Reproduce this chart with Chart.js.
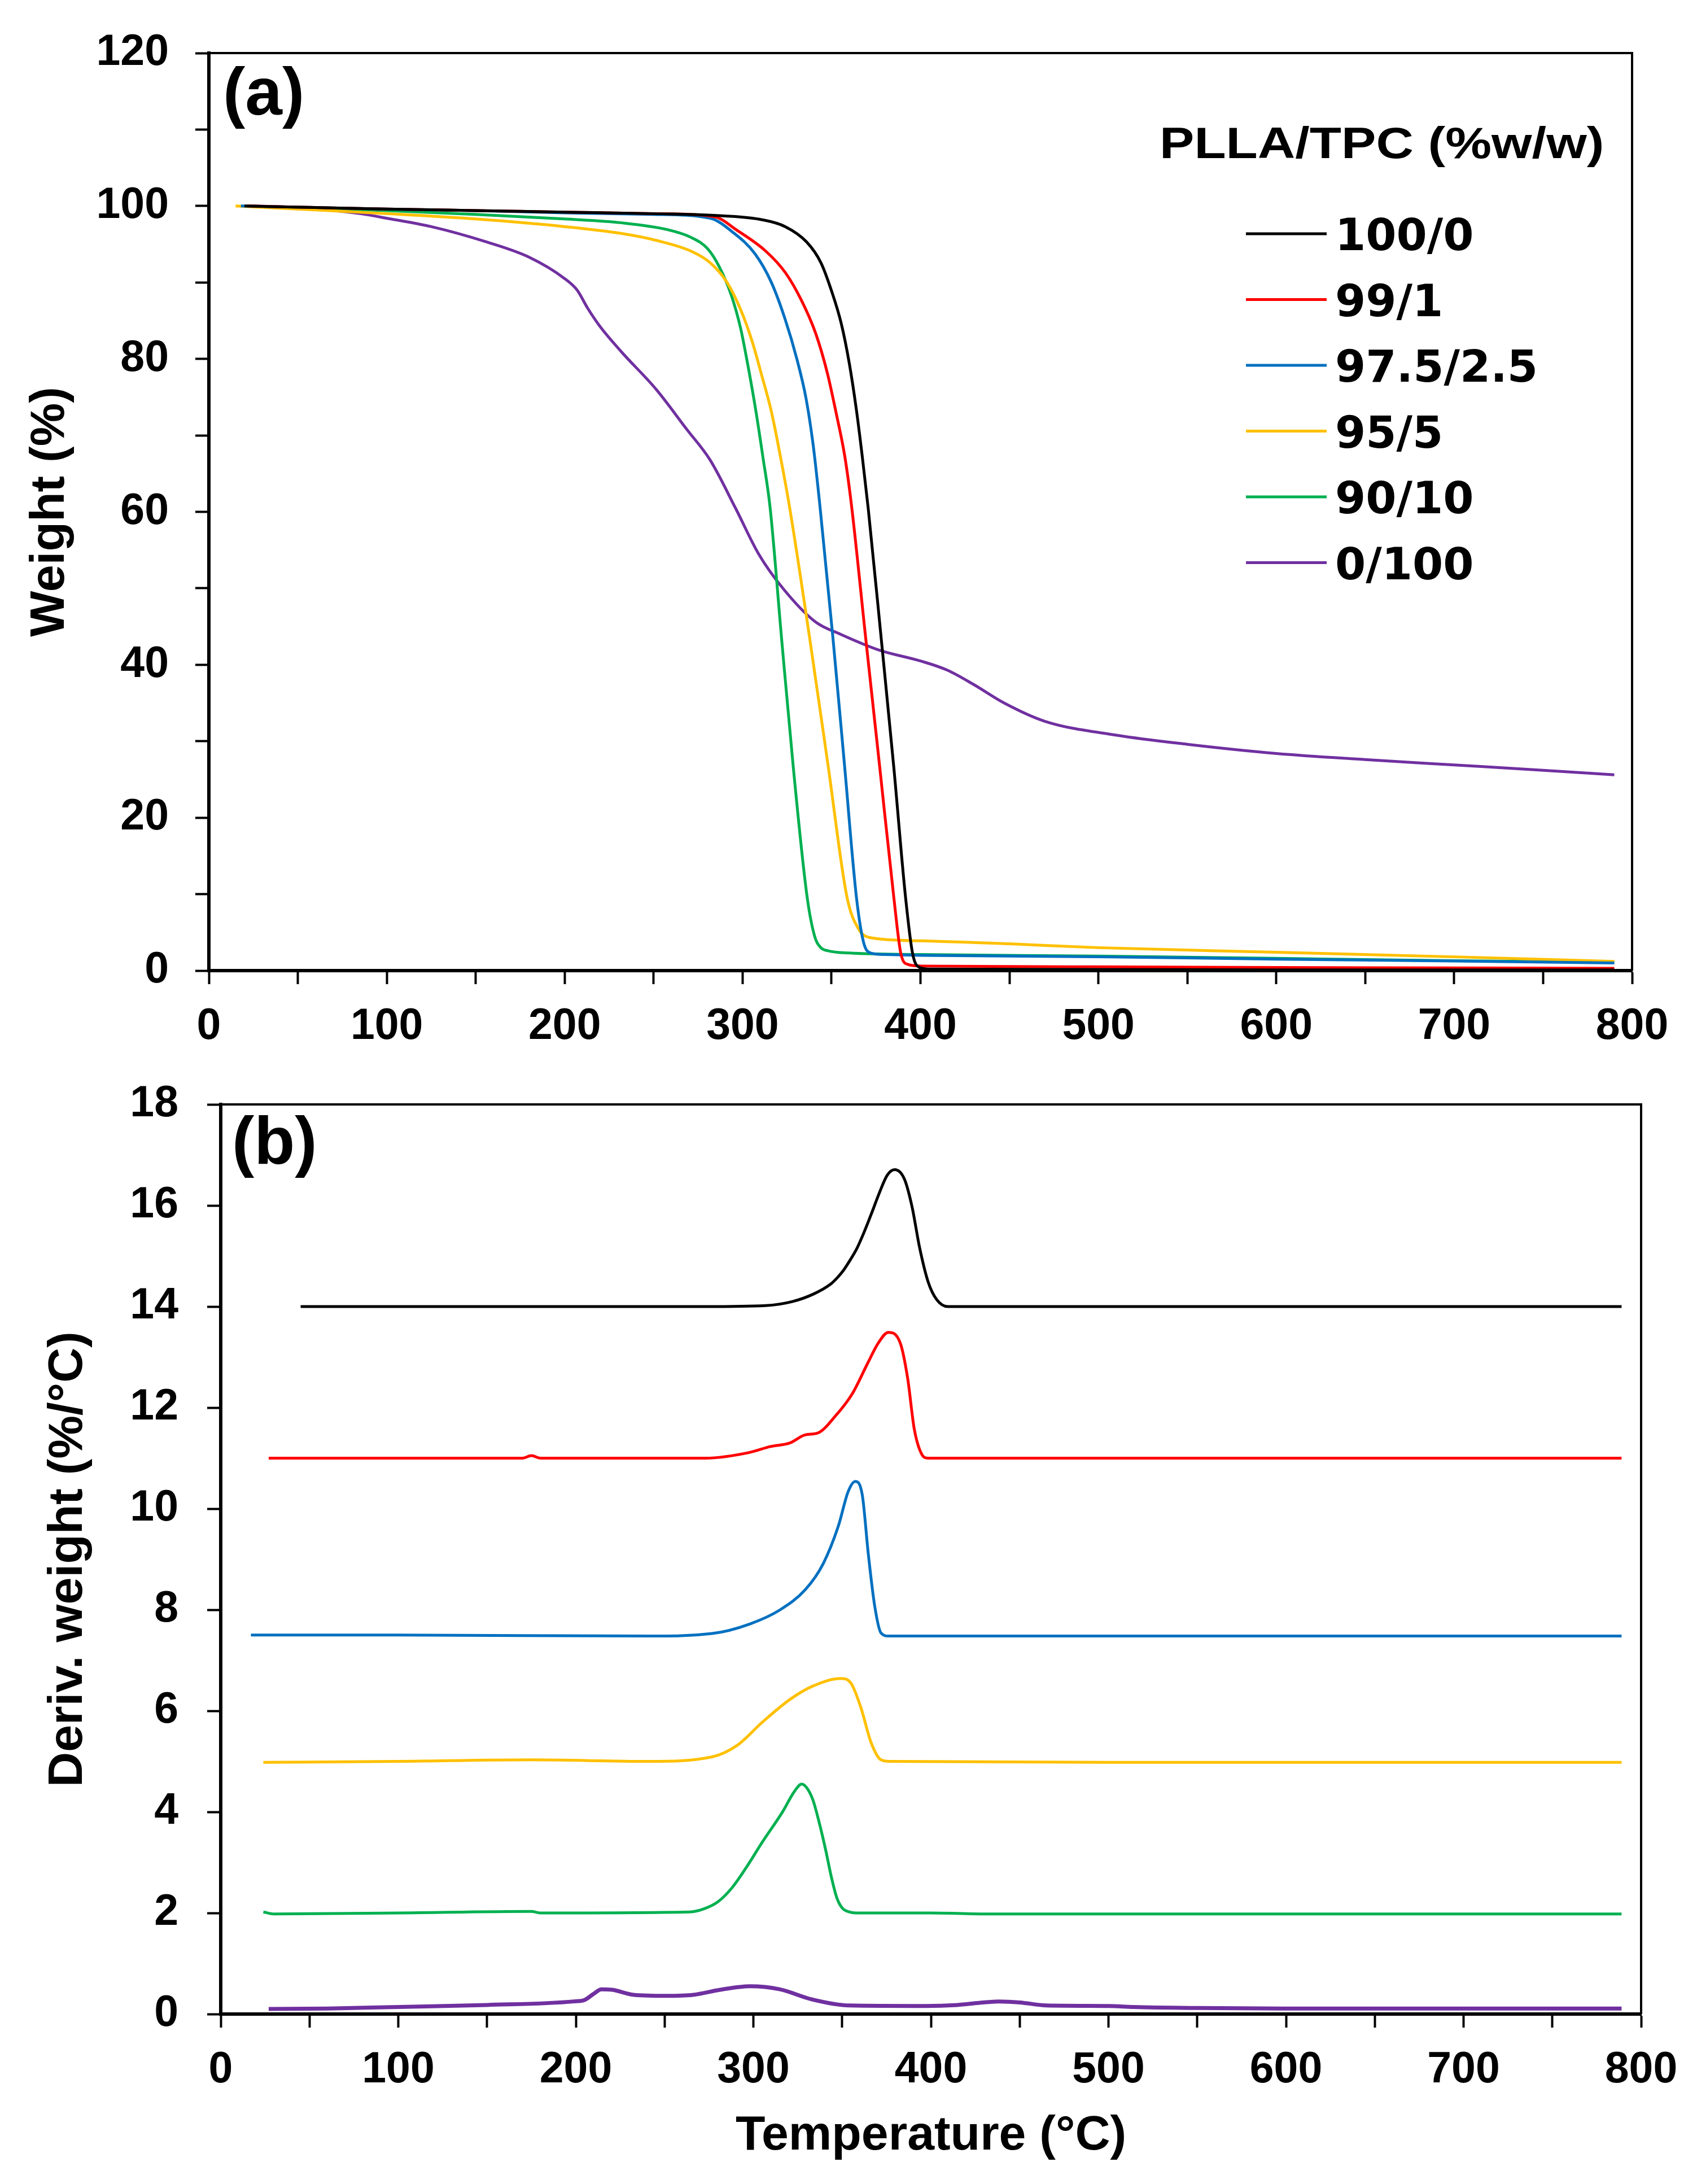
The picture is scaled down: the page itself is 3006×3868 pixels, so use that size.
<!DOCTYPE html>
<html>
<head>
<meta charset="utf-8">
<script src="https://cdn.jsdelivr.net/npm/chart.js@4.4.1/dist/chart.umd.min.js"></script>
<style>
  html, body { margin: 0; padding: 0; background: #fff; }
  #wrap { position: relative; width: 3006px; height: 3868px; background: #fff; }
  canvas { position: absolute; left: 0; }
  #chartA { top: 0; }
  #chartB { top: 1900px; }
</style>
</head>
<body>
<div id="wrap">
  <canvas id="chartA" width="3006" height="1900"></canvas>
  <canvas id="chartB" width="3006" height="1968"></canvas>
</div>
<script>
// compositions PLLA/TPC (%w/w)
const seriesLabels = ["100/0", "99/1", "97.5/2.5", "95/5", "90/10", "0/100"];
const seriesColors = ["#000000", "#ff0000", "#0070c0", "#ffc000", "#00b050", "#7030a0"];
const legendTitle = "PLLA/TPC (%w/w)";

const xTicks = [0, 100, 200, 300, 400, 500, 600, 700, 800];
const weightTicks = [0, 20, 40, 60, 80, 100, 120];
const derivTicks = [0, 2, 4, 6, 8, 10, 12, 14, 16, 18];

// (a) TGA : [temperature °C, weight %]
const tga100_0 = [[20,100],[60,99.8],[100,99.6],[150,99.4],[200,99.2],[250,99.0],[290,98.7],[311,98.2],[324,97.3],[336,95.3],[344,92.6],[350,88.9],[355.5,84.6],[360,79.4],[364,73.3],[367.3,67.2],[370.6,60.5],[377.9,43.5],[385,26.6],[391.6,9.6],[395.6,2.2],[399.5,0.4],[405,0.2],[500,0.15],[600,0.1],[700,0.1],[790,0.1]];
const tga99_1 = [[22,100],[60,99.8],[100,99.6],[150,99.4],[200,99.2],[250,99.0],[284,98.6],[297,96.8],[313,94.1],[324,91.3],[333,87.7],[341,83.4],[347.6,78.2],[352.8,72.7],[357.5,67.2],[361.4,60.5],[369.2,43.5],[377.1,26.6],[385,9.6],[389,2.2],[393,0.8],[400,0.6],[500,0.5],[600,0.4],[700,0.35],[790,0.3]];
const tga97_5 = [[18,100],[60,99.8],[100,99.6],[150,99.4],[200,99.1],[250,98.9],[281.7,98.4],[294.9,96.5],[306.8,93.8],[316,90.1],[323.9,85.2],[330.5,80],[335.7,74.8],[339.7,68.7],[343.6,60.5],[350.8,43.5],[357.4,26.6],[364,9.6],[368,3.7],[372,2.3],[380,2.1],[400,2.0],[500,1.8],[600,1.5],[700,1.25],[790,1.0]];
const tga95_5 = [[15,100],[50,99.6],[100,99.0],[150,98.3],[200,97.3],[232,96.4],[251.5,95.5],[271,94.1],[281.7,92.6],[291,90.1],[299,86.4],[305.5,82.2],[310.7,77.9],[316,73.3],[321.3,67.2],[326.5,60.5],[337.7,43.5],[348.2,26.6],[358.7,9.6],[365.3,5.4],[372,4.3],[400,3.9],[450,3.5],[500,3.0],[600,2.4],[700,1.8],[790,1.2]];
const tga90_10 = [[22,100],[50,99.8],[100,99.4],[150,98.9],[200,98.3],[232,97.8],[258,96.9],[271,95.9],[280.4,94.4],[287,92],[293.7,88.3],[298.9,84],[302.8,79.4],[307.4,73.3],[311.4,67.2],[315.5,60.5],[321.9,43.5],[328.5,26.6],[336.3,9.6],[340.5,4.5],[344,3.0],[348,2.6],[360,2.3],[400,2.1],[500,1.9],[600,1.6],[700,1.3],[790,1.1]];
const tga0_100 = [[25,100],[50,99.8],[85,99.0],[100,98.4],[125,97.3],[156,95.3],[180,93.3],[200,90.5],[207,89.0],[213,86.6],[220,84.2],[232,80.9],[251.5,76],[268.6,70.8],[281.7,66.8],[296,60.5],[309,54.5],[323,49.9],[341,45.6],[355,44],[377,41.9],[400,40.5],[415,39.3],[430,37.4],[447,35],[470,32.6],[510,30.8],[550,29.6],[600,28.4],[650,27.6],[700,26.9],[750,26.2],[790,25.6]];

// (b) DTG : [temperature °C, deriv. weight %/°C] (curves offset as in the figure)
const dtg100_0 = [[45,14],[100,14],[200,14],[273,14],[307,14.02],[322,14.1],[334,14.25],[343.7,14.45],[347.5,14.58],[351,14.73],[354.5,14.92],[358.3,15.15],[361.5,15.4],[364.4,15.65],[367.5,15.93],[370.4,16.2],[375.4,16.6],[379.6,16.71],[385.1,16.52],[389.4,15.97],[393.6,15.17],[398.5,14.48],[403.4,14.13],[409.4,14.0],[500,14],[600,14],[700,14],[789,14]];
const dtg99_1 = [[27,11],[100,11.0],[170,11.0],[175,11.05],[180,11.0],[273,11.0],[297.5,11.11],[309.6,11.23],[320.5,11.3],[329.1,11.46],[336.4,11.5],[346.1,11.83],[355.8,12.28],[364.4,12.88],[370.4,13.28],[376,13.49],[382.7,13.28],[386.9,12.58],[390.6,11.58],[394.8,11.08],[398.4,11.0],[500,11],[600,11],[700,11],[789,11]];
const dtg97_5 = [[17,7.5],[100,7.5],[241,7.48],[276.8,7.53],[298.1,7.72],[315.1,8.0],[329.3,8.4],[339.3,8.91],[347.8,9.65],[353.4,10.34],[357.4,10.54],[361.3,10.28],[364.8,9.08],[368.4,8.06],[371.9,7.54],[376.2,7.48],[500,7.48],[600,7.48],[700,7.48],[789,7.48]];
const dtg95_5 = [[24,4.98],[100,5.0],[175,5.03],[241,5.0],[276.8,5.09],[291,5.32],[305.2,5.78],[320.8,6.23],[333.5,6.49],[349.2,6.64],[354.9,6.55],[360.6,6.06],[366.2,5.38],[371.9,5.03],[377,5.0],[500,4.98],[600,4.98],[700,4.98],[789,4.98]];
const dtg90_10 = [[24,2.02],[30,1.98],[100,2.0],[175,2.03],[180,2.0],[264,2.02],[272,2.08],[280,2.22],[288,2.5],[296,2.9],[305,3.4],[316.6,4.01],[323,4.4],[327.2,4.55],[330,4.48],[333.5,4.24],[337,3.8],[340.7,3.25],[344,2.7],[347,2.3],[350,2.1],[354,2.02],[358,2.0],[400,2.0],[435,1.98],[500,1.98],[600,1.98],[700,1.98],[789,1.98]];
const dtg0_100 = [[27,0.1],[60,0.11],[100,0.14],[150,0.18],[199,0.25],[205,0.28],[210,0.4],[214.4,0.49],[220.5,0.48],[232.6,0.38],[250.9,0.36],[266,0.38],[281.3,0.48],[298,0.55],[314.8,0.49],[333,0.29],[354,0.17],[397,0.16],[415,0.18],[427,0.22],[438,0.25],[450,0.23],[465,0.17],[500,0.16],[514,0.14],[550,0.12],[600,0.11],[700,0.11],[789,0.11]];

const tgaSeries = [tga100_0, tga99_1, tga97_5, tga95_5, tga90_10, tga0_100];
const dtgSeries = [dtg100_0, dtg99_1, dtg97_5, dtg95_5, dtg90_10, dtg0_100];

const ARIAL = '"Liberation Sans", Arial, sans-serif';

function toDatasets(series, widths) {
  return series.map((pts, i) => ({
    label: seriesLabels[i],
    data: pts.map(p => ({ x: p[0], y: p[1] })),
    borderColor: seriesColors[i],
    backgroundColor: seriesColors[i],
    borderWidth: widths[i],
    pointRadius: 0,
    fill: false,
    cubicInterpolationMode: "monotone"
  }));
}

// top + right frame of the plot area
const framePlugin = {
  id: "frame",
  afterDraw(chart) {
    const a = chart.chartArea, ctx = chart.ctx;
    ctx.save();
    ctx.strokeStyle = "#000";
    ctx.lineWidth = 4;
    ctx.beginPath();
    ctx.moveTo(a.left, a.top);
    ctx.lineTo(a.right, a.top);
    ctx.lineTo(a.right, a.bottom);
    ctx.stroke();
    ctx.restore();
  }
};

// "(a)" / "(b)"
const panelTagPlugin = {
  id: "panelTag",
  afterDraw(chart, args, opts) {
    const ctx = chart.ctx;
    ctx.save();
    ctx.fillStyle = "#000";
    ctx.font = "bold 118px " + ARIAL;
    ctx.textBaseline = "alphabetic";
    ctx.fillText(opts.text, opts.x, opts.y);
    ctx.restore();
  }
};

// legend of panel (a), drawn inside the plot
const legendPlugin = {
  id: "tgaLegend",
  afterDraw(chart) {
    const ctx = chart.ctx;
    ctx.save();
    ctx.fillStyle = "#000";
    ctx.textBaseline = "alphabetic";
    ctx.save();
    ctx.translate(2054, 280);
    ctx.scale(1.18, 1);
    ctx.font = "bold 78px " + ARIAL;
    ctx.fillText(legendTitle, 0, 0);
    ctx.restore();
    ctx.font = 'bold 78px "DejaVu Sans", sans-serif';
    chart.data.datasets.forEach((ds, i) => {
      const y = 414 + i * 116.5;
      ctx.strokeStyle = ds.borderColor;
      ctx.lineWidth = 5;
      ctx.beginPath();
      ctx.moveTo(2207, y);
      ctx.lineTo(2350, y);
      ctx.stroke();
      ctx.fillText(ds.label, 2365, y + 29);
    });
    ctx.restore();
  }
};

function axisX(height, title, titlePad) {
  return {
    type: "linear",
    min: 0, max: 800,
    ticks: {
      stepSize: 50,
      autoSkip: false,
      maxRotation: 0,
      color: "#000",
      padding: 30,
      font: { family: ARIAL, size: 77, weight: "bold" },
      callback: v => (xTicks.includes(v) ? v : "")
    },
    grid: { drawOnChartArea: false, drawTicks: true, tickLength: 24, tickWidth: 4, tickColor: "#000" },
    border: { display: true, color: "#000", width: 6 },
    title: {
      display: !!title,
      text: title,
      color: "#000",
      padding: { top: 0, bottom: titlePad },
      font: { family: ARIAL, size: 86, weight: "bold" }
    },
    afterFit: s => { s.height = height; s.paddingLeft = 0; s.paddingRight = 0; }
  };
}

function axisY(width, max, step, labels, title, titlePad, labelPad) {
  return {
    type: "linear",
    min: 0, max: max,
    ticks: {
      stepSize: step,
      autoSkip: false,
      color: "#000",
      padding: labelPad,
      font: { family: ARIAL, size: 77, weight: "bold" },
      callback: v => (labels.includes(v) ? v : "")
    },
    grid: { drawOnChartArea: false, drawTicks: true, tickLength: 24, tickWidth: 4, tickColor: "#000" },
    border: { display: true, color: "#000", width: 6 },
    title: {
      display: true,
      text: title,
      color: "#000",
      padding: { top: titlePad, bottom: 0 },
      font: { family: ARIAL, size: 86, weight: "bold" }
    },
    afterFit: s => { s.width = width; s.paddingTop = 0; s.paddingBottom = 0; }
  };
}

new Chart(document.getElementById("chartA"), {
  type: "line",
  data: { datasets: toDatasets(tgaSeries, [5, 5, 5, 5, 5, 5]) },
  options: {
    responsive: false,
    devicePixelRatio: 1,
    animation: false,
    layout: { padding: { top: 94, right: 115, bottom: 0, left: 0 } },
    plugins: {
      legend: { display: false },
      tooltip: { enabled: false },
      panelTag: { text: "(a)", x: 395, y: 203 }
    },
    scales: {
      x: axisX(181, "", 0),
      y: axisY(370, 120, 10, weightTicks, "Weight (%)", 38, 47)
    }
  },
  plugins: [framePlugin, panelTagPlugin, legendPlugin]
});

new Chart(document.getElementById("chartB"), {
  type: "line",
  data: { datasets: toDatasets(dtgSeries, [5, 5, 5, 5, 5, 7]) },
  options: {
    responsive: false,
    devicePixelRatio: 1,
    animation: false,
    layout: { padding: { top: 56, right: 99, bottom: 0, left: 0 } },
    plugins: {
      legend: { display: false },
      tooltip: { enabled: false },
      panelTag: { text: "(b)", x: 411, y: 161 }
    },
    scales: {
      x: axisX(301, "Temperature (\u00b0C)", 33),
      y: axisY(391, 18, 2, derivTicks, "Deriv. weight (%/\u00b0C)", 70, 51)
    }
  },
  plugins: [framePlugin, panelTagPlugin]
});
</script>
</body>
</html>
